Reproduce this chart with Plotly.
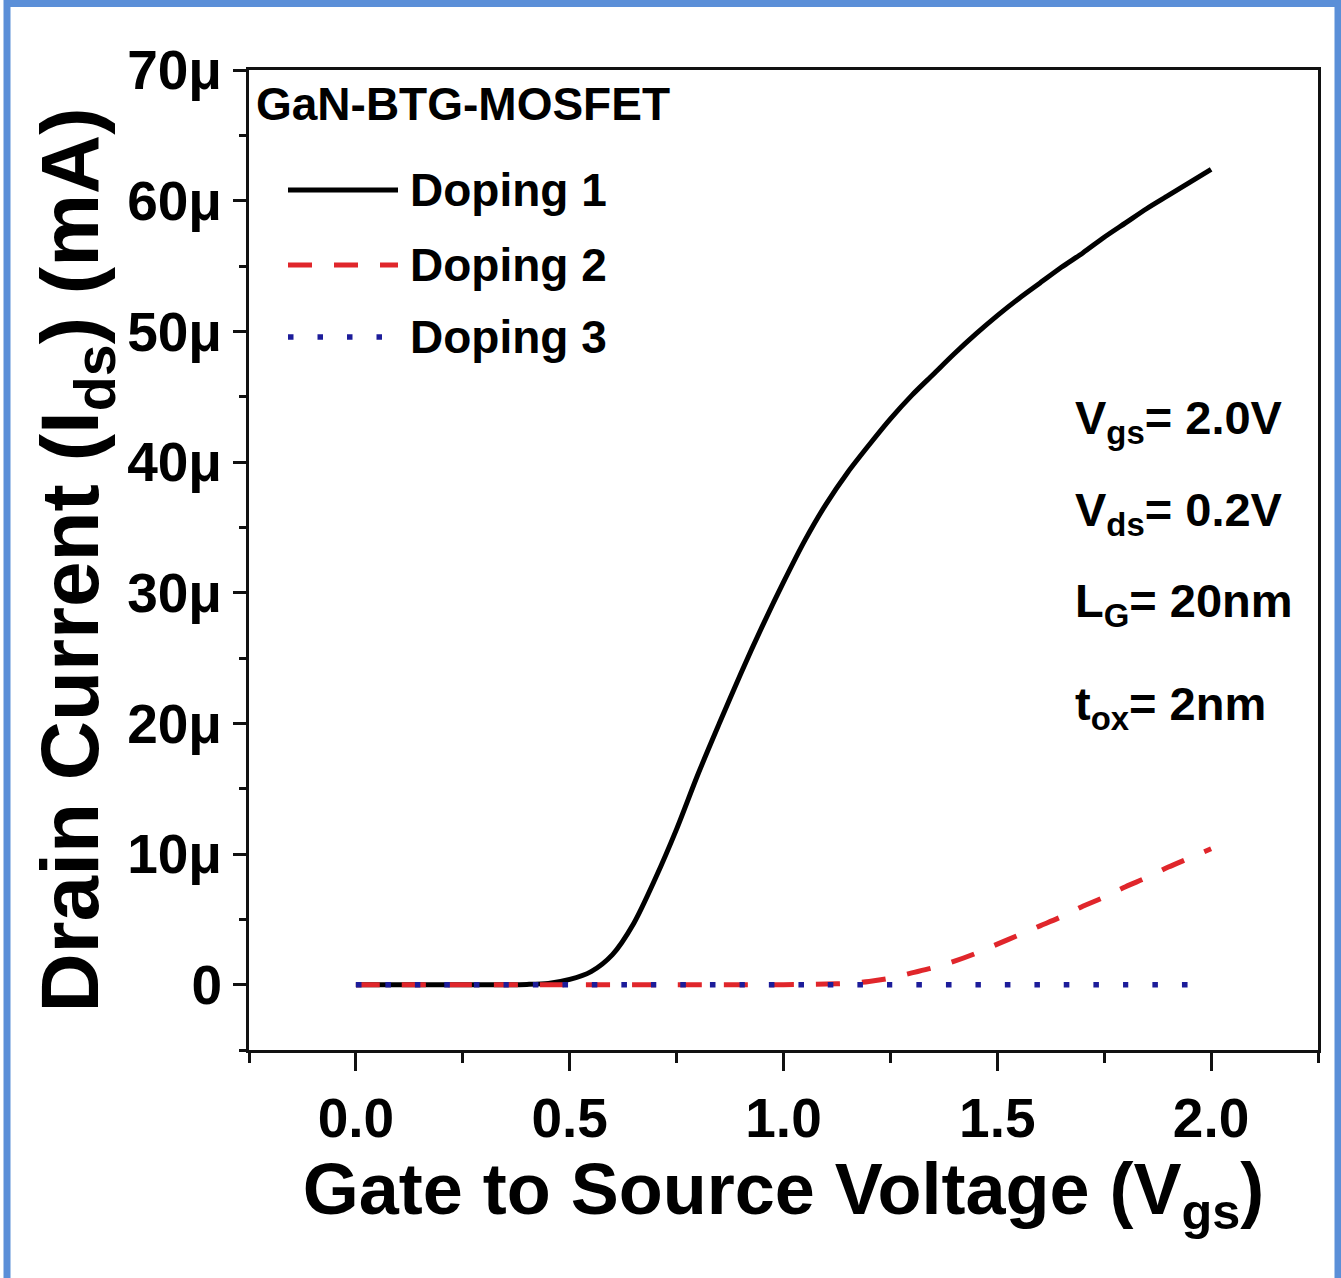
import plotly.graph_objects as go

# ---------------- data ----------------
vgs = [0.00, 0.05, 0.10, 0.15, 0.20, 0.25, 0.30, 0.35, 0.40, 0.45,
       0.50, 0.55, 0.60, 0.65, 0.70, 0.75, 0.80, 0.85, 0.90, 0.95,
       1.00, 1.05, 1.10, 1.15, 1.20, 1.25, 1.30, 1.35, 1.40, 1.45,
       1.50, 1.55, 1.60, 1.65, 1.70, 1.75, 1.80, 1.85, 1.90, 1.95, 2.00]

# drain current in micro-amps (axis labels carry the "μ")
doping1 = [0, 0, 0, 0, 0, 0, 0, 0, 0.02, 0.1,
           0.4, 1.0, 2.3, 4.7, 8.1, 11.9, 16.1, 20.0, 23.8, 27.4,
           30.8, 34.0, 36.8, 39.2, 41.3, 43.3, 45.1, 46.7, 48.3, 49.8,
           51.2, 52.5, 53.7, 54.9, 56.0, 57.2, 58.3, 59.4, 60.4, 61.4, 62.4]
doping2 = [0, 0, 0, 0, 0, 0, 0, 0, 0, 0,
           0, 0, 0, 0, 0, 0, 0, 0, 0, 0,
           0, 0.02, 0.05, 0.1, 0.25, 0.5, 0.9, 1.3, 1.8, 2.4,
           3.1, 3.8, 4.5, 5.2, 6.0, 6.7, 7.5, 8.2, 9.0, 9.7, 10.4]
doping3 = [0] * len(vgs)

series_names = ["Doping 1", "Doping 2", "Doping 3"]

x_tickvals = [0.0, 0.5, 1.0, 1.5, 2.0]
x_ticktext = ["0.0", "0.5", "1.0", "1.5", "2.0"]
y_tickvals = [0, 10, 20, 30, 40, 50, 60, 70]
y_ticktext = ["0", "10μ", "20μ", "30μ", "40μ", "50μ", "60μ", "70μ"]

device_label = "GaN-BTG-MOSFET"
param_lines = ["V<sub>gs</sub>= 2.0V", "V<sub>ds</sub>= 0.2V",
               "L<sub>G</sub>= 20nm", "t<sub>ox</sub>= 2nm"]

# ---------------- style ----------------
FONT = "Liberation Sans, Arial, sans-serif"
BLACK = "#000000"
RED = "#e0262b"
BLUE = "#1c1c9a"
styles = [dict(color=BLACK, width=5, dash="solid"),
          dict(color=RED, width=5, dash="24px,22px"),
          dict(color=BLUE, width=5.5, dash="5.5px,24px")]


def bfont(size):
    return dict(family=FONT, size=size, color=BLACK, weight="bold")


fig = go.Figure()
for name, ys, st in zip(series_names, [doping1, doping2, doping3], styles):
    fig.add_trace(go.Scatter(x=vgs, y=ys, mode="lines", name=name,
                             line=dict(color=st["color"], width=st["width"],
                                       dash=st["dash"], shape="spline", smoothing=0.8),
                             showlegend=False))

axis_common = dict(showline=True, linecolor="#111111", linewidth=3, mirror=True,
                   ticks="outside", tickwidth=3, tickcolor="#111111",
                   showgrid=False, zeroline=False, tickfont=bfont(55))

fig.update_xaxes(**axis_common, range=[-0.25, 2.25], tickmode="array",
                 tickvals=x_tickvals, ticktext=x_ticktext, ticklen=18,
                 ticklabelstandoff=0,
                 minor=dict(ticks="outside", tick0=0, dtick=0.25, ticklen=10,
                            tickwidth=3, tickcolor="#111111"),
                 title=dict(text="Gate to Source Voltage (V<sub>gs</sub>)",
                            font=bfont(72), standoff=4))
fig.update_yaxes(**axis_common, range=[-5, 70], tickmode="array",
                 tickvals=y_tickvals, ticktext=y_ticktext, ticklen=13,
                 ticklabelstandoff=0,
                 minor=dict(ticks="outside", tick0=0, dtick=5, ticklen=7,
                            tickwidth=3, tickcolor="#111111"),
                 title=dict(text="Drain Current (I<sub>ds</sub>) (mA)",
                            font=bfont(82), standoff=0))

W, H = 1341, 1278
L, R, T, B = 249, 23, 70, 228
pw, ph = W - L - R, H - T - B


def px(x):
    return (x - L) / pw


def py(y):
    return (H - B - y) / ph


annos = [dict(text=device_label, x=px(254), y=py(104),
              xanchor="left", yanchor="middle", font=bfont(46))]

legend_rows = [190, 265, 337]
shapes = []
for name, st, yrow in zip(series_names, styles, legend_rows):
    shapes.append(dict(type="line", xref="paper", yref="paper",
                       x0=px(288), x1=px(398), y0=py(yrow), y1=py(yrow),
                       line=dict(color=st["color"], width=st["width"], dash=st["dash"])))
    annos.append(dict(text=name, x=px(408), y=py(yrow),
                      xanchor="left", yanchor="middle", font=bfont(46)))

param_rows = [421, 513, 604, 707]
for txt, yrow in zip(param_lines, param_rows):
    annos.append(dict(text=txt, x=px(1073), y=py(yrow),
                      xanchor="left", yanchor="middle", font=bfont(47)))

# outer blue frame of the figure
shapes.append(dict(type="rect", xref="paper", yref="paper",
                   x0=px(7), x1=px(1338), y0=py(1295), y1=py(3.5),
                   line=dict(color="#5b8fd8", width=7), layer="above"))

for a in annos:
    a.update(xref="paper", yref="paper", showarrow=False)

fig.update_layout(width=W, height=H, margin=dict(l=L, r=R, t=T, b=B),
                  paper_bgcolor="white", plot_bgcolor="white",
                  annotations=annos, shapes=shapes, showlegend=False)

fig.write_html("out.html")
